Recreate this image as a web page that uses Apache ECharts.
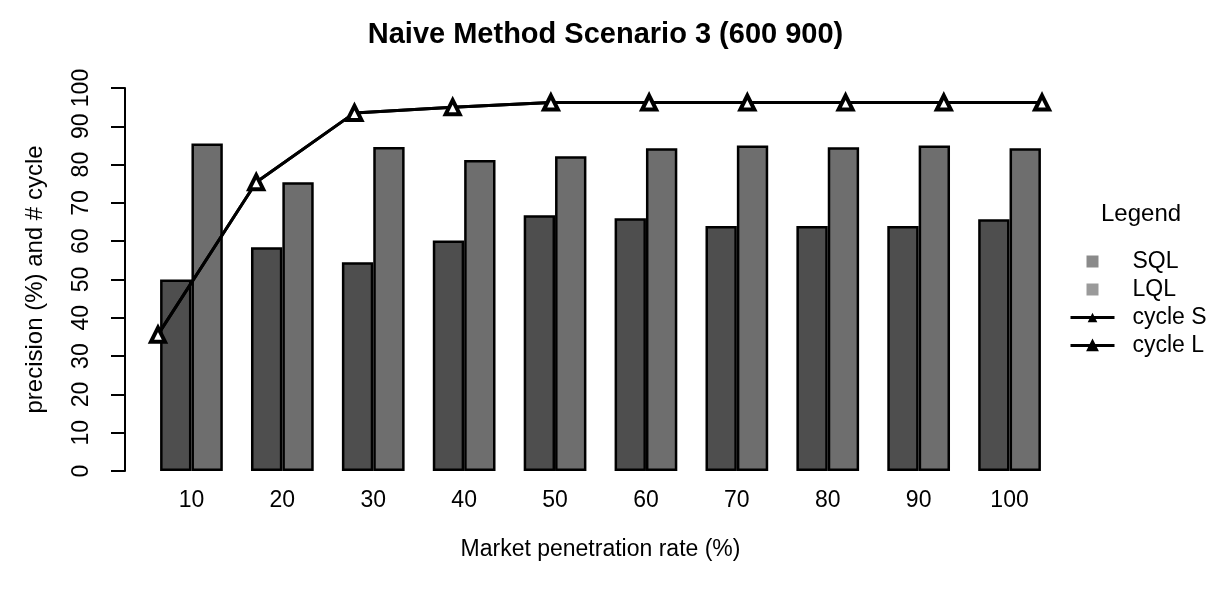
<!DOCTYPE html>
<html>
<head>
<meta charset="utf-8">
<script src="https://cdn.jsdelivr.net/npm/echarts@6/dist/echarts.min.js"></script>
<style>html,body{margin:0;padding:0;background:#fff;}#c{width:1211px;height:592px;}</style>
</head>
<body>
<div id="c"></div>
<script>
const categories = ['10','20','30','40','50','60','70','80','90','100'];
const rates = [10,20,30,40,50,60,70,80,90,100];
const sql = [50,58.4,54.5,60.2,66.8,66,64,64,64,65.7];
const lql = [85.5,75.4,84.6,81.2,82.2,84.3,85,84.5,85,84.3];
const cycleS = [35.6,75.4,93.5,95,96.2,96.2,96.2,96.2,96.2,96.2];
const cycleL = [35.6,75.4,93.5,95,96.2,96.2,96.2,96.2,96.2,96.2];

const font = 'Liberation Sans, Arial, sans-serif';
const chart = echarts.init(document.getElementById('c'), null, {renderer:'canvas'});
const pair = (xs, ys) => xs.map((x,i)=>[x, ys[i]]);

chart.setOption({
  backgroundColor:'#ffffff',
  animation:false,
  title:[
    {text:'Naive Method Scenario 3 (600 900)', left:'center', top:15,
     textStyle:{fontFamily:font, fontSize:29, fontWeight:'bold', color:'#000'}},
    {text:'Legend', left:1096, top:197,
     textStyle:{fontFamily:font, fontSize:24, fontWeight:'normal', color:'#000'}}
  ],
  legend:{
    orient:'vertical', left:1064, top:245, itemGap:5,
    itemWidth:44, itemHeight:12,
    textStyle:{fontFamily:font, fontSize:23, lineHeight:23, color:'#000', padding:[0,0,0,13]},
    data:[
      {name:'SQL', icon:'path://M0,0L10,0L10,10L0,10Z', itemStyle:{color:'#8a8a8a', borderWidth:0}},
      {name:'LQL', icon:'path://M0,0L10,0L10,10L0,10Z', itemStyle:{color:'#9a9a9a', borderWidth:0}},
      {name:'cycle S', lineStyle:{width:3}, itemStyle:{color:'#000'}},
      {name:'cycle L', lineStyle:{width:3}, itemStyle:{color:'#000', borderColor:'#000'}}
    ]
  },
  grid:{left:146, right:156, top:88, bottom:121, containLabel:false},
  xAxis:[
    {type:'category', data:categories, position:'bottom',
     axisLine:{show:false}, axisTick:{show:false},
     axisLabel:{fontFamily:font, fontSize:23, color:'#000', margin:18},
     name:'Market penetration rate (%)', nameLocation:'middle', nameGap:67,
     nameTextStyle:{fontFamily:font, fontSize:23, color:'#000'}},
    {type:'value', show:false, min:8.78, max:101.32, position:'bottom'}
  ],
  yAxis:{
    type:'value', min:0, max:100, interval:10, offset:21,
    splitLine:{show:false},
    axisLine:{show:true, lineStyle:{color:'#000', width:2}},
    axisTick:{show:true, length:14, lineStyle:{color:'#000', width:2}},
    axisLabel:{fontFamily:font, fontSize:23, color:'#000', rotate:90, margin:32},
    name:'precision (%) and # cycle', nameLocation:'middle', nameGap:78,
    nameTextStyle:{fontFamily:font, fontSize:24, color:'#000'}
  },
  series:[
    {name:'SQL', type:'bar', xAxisIndex:0, data:sql, barGap:'0%', barCategoryGap:'31%',
     itemStyle:{color:'#4e4e4e', borderColor:'#000', borderWidth:2.5}},
    {name:'LQL', type:'bar', xAxisIndex:0, data:lql, barGap:'0%', barCategoryGap:'31%',
     itemStyle:{color:'#6e6e6e', borderColor:'#000', borderWidth:2.5}},
    {name:'cycle S', type:'line', xAxisIndex:1, data:pair(rates, cycleS),
     symbol:'triangle', symbolSize:14, z:5,
     lineStyle:{color:'#000', width:3}, itemStyle:{color:'#000', borderColor:'#000'}},
    {name:'cycle L', type:'line', xAxisIndex:1, data:pair(rates, cycleL),
     symbol:'triangle', symbolSize:14, z:6,
     lineStyle:{color:'#000', width:3}, itemStyle:{color:'#fff', borderColor:'#000', borderWidth:4}}
  ]
});
</script>
</body>
</html>
